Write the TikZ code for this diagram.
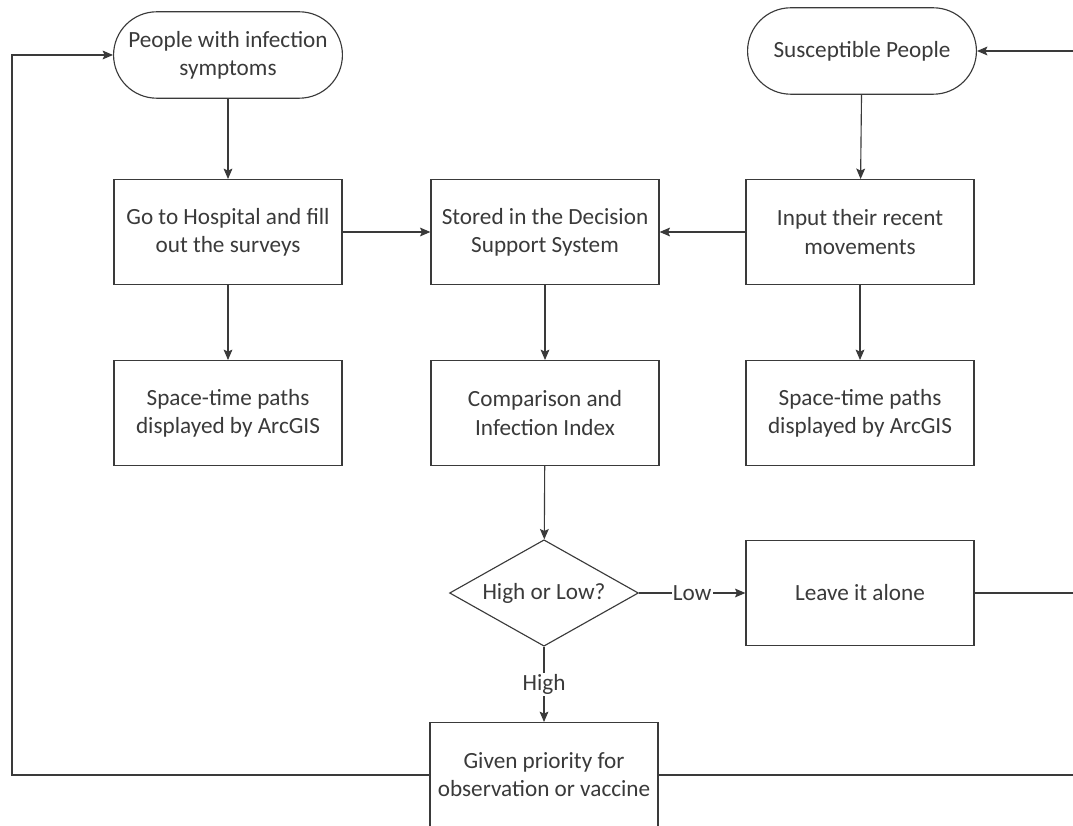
\documentclass[tikz,border=0pt]{standalone}
\usepackage{fontspec}
\setmainfont{Carlito}
\usetikzlibrary{arrows.meta,shapes.geometric}
\definecolor{ink}{HTML}{3A3A3A}
\begin{document}
\begin{tikzpicture}[x=0.025cm,y=-0.025cm,
  every node/.style={font=\fontsize{16.5}{20}\selectfont,text=ink,align=center},
  proc/.style={draw=ink,line width=0.8pt,minimum width=5.7cm,minimum height=2.62cm,inner sep=0pt},
  term/.style={draw=ink,line width=0.8pt,rounded corners=1.08cm,minimum width=5.72cm,minimum height=2.16cm,inner sep=0pt},
  test/.style={draw=ink,line width=0.8pt,diamond,aspect=1.78,minimum width=4.72cm,minimum height=2.66cm,inner sep=0pt},
  flow/.style={draw=ink,line width=0.8pt,-{Stealth[length=2.6mm,width=2.2mm,inset=0.5mm]}},
  lbl/.style={fill=white,inner sep=1pt}]
\useasboundingbox (0,0) rectangle (1073,826);
\fill[white] (0,0) rectangle (1073,826);
\node[term] (sick) at (228,55) {People with infection\\symptoms};
\node[term] (sus) at (862,51) {Susceptible People};
\node[proc] (hosp) at (228,232) {Go to Hospital and fill\\out the surveys};
\node[proc] (store) at (545,232) {Stored in the Decision\\Support System};
\node[proc] (input) at (860,232) {Input their recent\\movements};
\node[proc] (pathl) at (228,413) {Space-time paths\\displayed by ArcGIS};
\node[proc] (comp) at (545,413) {Comparison and\\Infection Index};
\node[proc] (pathr) at (860,413) {Space-time paths\\displayed by ArcGIS};
\node[test] (hilo) at (544,593) {High or Low?};
\node[proc] (leave) at (860,593) {Leave it alone};
\node[proc] (prio) at (544,775) {Given priority for\\observation or vaccine};
\coordinate (lft) at (12,0);
\coordinate (rgt) at (1095,0);
% main flow
\draw[flow] (sick) -- (hosp);
\draw[flow] (sus) -- (input);
\draw[flow] (hosp) -- (store);
\draw[flow] (input) -- (store);
\draw[flow] (hosp) -- (pathl);
\draw[flow] (input) -- (pathr);
\draw[flow] (store) -- (comp);
\draw[flow] (comp) -- (hilo);
\draw[flow] (hilo) -- node[lbl]{Low} (leave);
\draw[flow] (hilo) -- node[lbl]{High} (prio);
% feedback loops
\draw[flow] (prio.west) -- (lft |- prio.west) -- (lft |- sick.west) -- (sick.west);
\draw[flow] (prio.east) -- (rgt |- prio.east) -- (rgt |- sus.east) -- (sus.east);
\draw[draw=ink,line width=0.8pt] (leave.east) -- (rgt |- leave.east);
\end{tikzpicture}
\end{document}
